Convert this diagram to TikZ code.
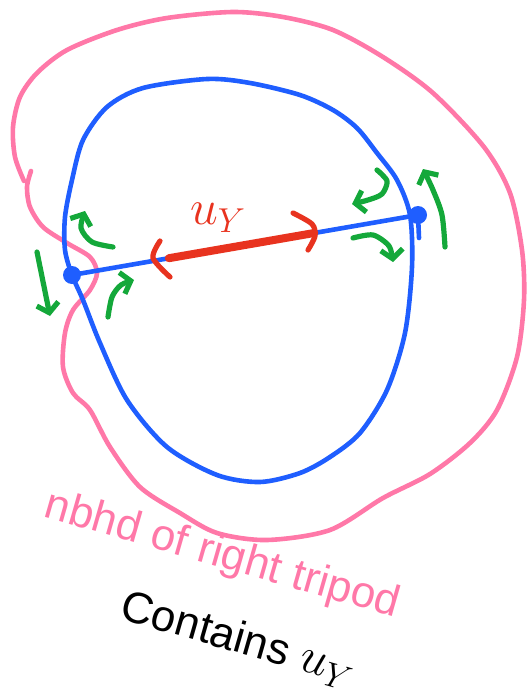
\documentclass[tikz,border=0pt]{standalone}
\usepackage{fontspec}
\setmainfont{Liberation Sans}
\usepackage{tikz}
\usepackage{xcolor}
\usetikzlibrary{arrows.meta,calc}
\definecolor{loopc}{HTML}{1F5EFF}
\definecolor{nbhdc}{HTML}{FF78A8}
\definecolor{segc}{HTML}{E8331F}
\definecolor{flowc}{HTML}{14A83A}
\tikzset{
  loop/.style={draw=loopc, line width=2.3pt, line cap=round, line join=round},
  nbhd/.style={draw=nbhdc, line width=2.3pt, line cap=round, line join=round},
  seg/.style={draw=segc, line width=2.6pt, line cap=round},
  flow/.style={draw=flowc, line width=2.6pt, line cap=round, line join=round, -{Straight Barb[length=4.5pt,width=11pt]}},
  vertex/.style={circle, fill=loopc, inner sep=0pt, minimum size=9pt},
}

\begin{document}
\begin{tikzpicture}[x=0.5pt,y=-0.5pt]
\useasboundingbox (0,0) rectangle (527,696);
\draw[nbhd] plot[smooth] coordinates {(31,171) (27,187) (30,207) (43,227) (67,243) (90,257) (97,273) (90,290) (73,310) (65,333) (63,367) (73,393) (90,410) (110,447) (140,487) (180,513) (217,533) (267,540) (330,530) (383,498) (430,474) (470,443) (497,410) (517,357) (524,300) (522,250) (510,193) (484,147) (433,93) (383,57) (333,30) (283,17) (233,12) (167,18) (117,30) (67,50) (37,73) (20,97) (13,127) (15,157) (24,181)};
\draw[loop] plot[smooth cycle] coordinates {(72,275) (83,300) (100,343) (127,400) (167,447) (217,475) (260,482) (300,473) (330,457) (360,433) (387,390) (405,333) (412,267) (410,215) (397,180) (377,153) (357,128) (333,110) (300,95) (250,83) (207,79) (143,88) (107,107) (83,140) (72,180) (65,217) (65,250)};
\node[vertex] (ldot) at (72,275) {};
\node[vertex] (rdot) at (418,215) {};
\draw[loop] (ldot.center) -- (rdot.center);
\draw[loop] (rdot.center) -- (419,238);
\coordinate (ua) at ($(ldot)!0.28!(rdot)$);
\coordinate (ub) at ($(ldot)!0.70!(rdot)$);
\draw[seg, line width=4pt] (ua) -- (ub);
\draw[seg] plot[smooth] coordinates {(160,241) (153,258) (170,277)};
\draw[seg] plot[smooth] coordinates {(293,213) (312,224) (315,236) (308,250)};
\node[text=segc, font=\fontsize{24}{24}\selectfont] (uy) at (218,218) {$u_Y$};
\draw[flow] (37,252) -- (50,316);
\draw[flow] plot[smooth] coordinates {(113,247) (92,242) (81,228) (85,211)};
\draw[flow] plot[smooth] coordinates {(108,317) (112,297) (121,285) (134,280)};
\draw[flow] plot[smooth] coordinates {(377,170) (387,181) (382,194) (368,200) (352,204)};
\draw[flow] plot[smooth] coordinates {(353,238) (373,235) (389,246) (393,262)};
\draw[flow] plot[smooth] coordinates {(445,247) (442,215) (433,190) (423,169)};
\node[text=nbhdc, rotate=-16, font=\fontsize{22}{22}\selectfont] (label) at (222,556) {nbhd of right tripod};
\node[rotate=-16, font=\fontsize{22}{22}\selectfont] (contains) at (238,640) {Contains {\fontsize{26}{26}\selectfont$u_Y$}};
\end{tikzpicture}
\end{document}
